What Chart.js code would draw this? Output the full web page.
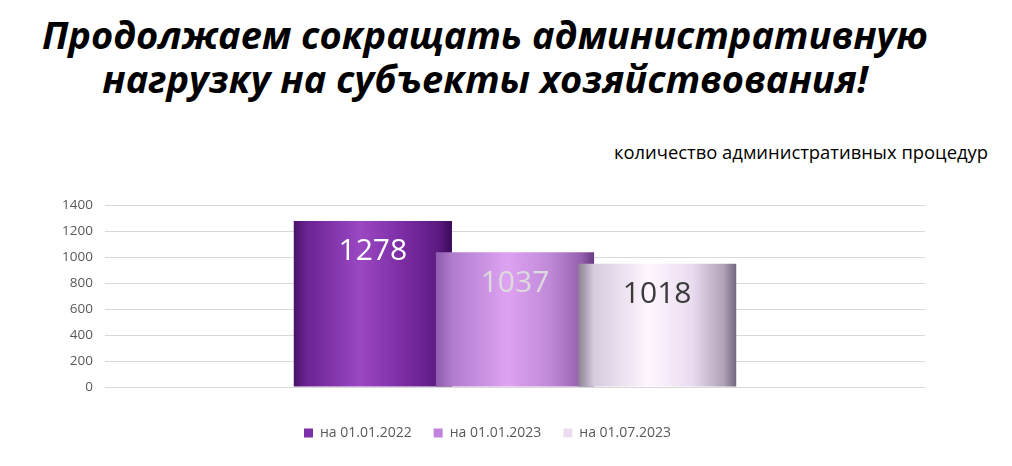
<!DOCTYPE html>
<html>
<head>
<meta charset="utf-8">
<script src="https://cdn.jsdelivr.net/npm/chart.js"></script>
<style>
  html, body { margin: 0; padding: 0; background: #fff; }
  body { width: 1012px; height: 466px; position: relative; overflow: hidden; font-family: "Open Sans", sans-serif; }
  #title { position: absolute; left: 0; top: 12px; width: 970px; text-align: center; font-weight: bold; font-style: italic; font-size: 38px; line-height: 44px; color: #000; }
  #units { position: absolute; right: 24px; top: 139px; font-size: 18.4px; color: #000; }
  #wrap { position: absolute; left: 0; top: 185px; width: 1012px; height: 281px; }
</style>
</head>
<body>
<div id="title">Продолжаем сокращать административную<br>нагрузку на субъекты хозяйствования!</div>
<div id="units">количество административных процедур</div>
<div id="wrap"><canvas id="barChart"></canvas></div>
<script>
// Bar data
var categories = [""];
var seriesLabels = ["на 01.01.2022", "на 01.01.2023", "на 01.07.2023"];
var seriesValues = [1278, 1037, 948];          // bar heights as drawn in the picture
var valueLabels = ["1278", "1037", "1018"];    // numbers printed on the bars
var yMin = 0, yMax = 1400, yStep = 200;

var legendColors = ["#7b2fa8", "#c084de", "#ecdcf2"];
var labelColors = ["#ffffff", "#dcdcdc", "#3a3a3a"];
var barStops = [
    [[0, "#4a1268"], [0.08, "#6a2294"], [0.42, "#9a48c2"], [0.7, "#7a2ba2"], [0.92, "#5a1a80"], [1, "#3c0a58"]],
    [[0, "#8c5aac"], [0.1, "#b07ccc"], [0.45, "#dea2f2"], [0.72, "#c08ad8"], [0.92, "#9660b0"], [1, "#683a80"]],
    [[0, "#8a7e94"], [0.1, "#d6cade"], [0.45, "#fff6ff"], [0.72, "#eadcf0"], [0.92, "#b0a2b8"], [1, "#746880"]]
];

function barFill(i) {
    return function (context) {
        var el = context.element;
        if (!el || !el.width || !isFinite(el.x)) return legendColors[i];
        var g = context.chart.ctx.createLinearGradient(el.x - el.width / 2, 0, el.x + el.width / 2, 0);
        barStops[i].forEach(function (s) { g.addColorStop(s[0], s[1]); });
        return g;
    };
}

// draw datasets left to right so the right bar overlaps the left one
var drawOrder = {
    id: 'drawOrder',
    beforeDatasetsDraw: function (chart) {
        for (var i = 0; i < chart.data.datasets.length; i++) {
            chart.getDatasetMeta(i).controller.draw();
        }
        return false;
    }
};

var barValues = {
    id: 'barValues',
    afterDraw: function (chart) {
        var ctx = chart.ctx;
        ctx.save();
        ctx.font = '30px "Open Sans"';
        ctx.textAlign = 'center';
        ctx.textBaseline = 'middle';
        chart.data.datasets.forEach(function (ds, i) {
            var el = chart.getDatasetMeta(i).data[0];
            ctx.fillStyle = labelColors[i];
            ctx.fillText(valueLabels[i], el.x, el.y + 31);
        });
        ctx.restore();
    }
};

var chart = new Chart("barChart", {
    type: "bar",
    data: {
        labels: categories,
        datasets: seriesLabels.map(function (name, i) {
            return {
                label: name,
                data: [seriesValues[i]],
                backgroundColor: barFill(i),
                borderWidth: 0,
                categoryPercentage: 0.52,
                barPercentage: 1.113
            };
        })
    },
    options: {
        maintainAspectRatio: false,
        animation: false,
        layout: { padding: { left: 50, right: 87, top: 1, bottom: 16 } },
        plugins: {
            title: { display: false },
            tooltip: { enabled: false },
            legend: {
                position: 'bottom',
                labels: {
                    boxWidth: 9,
                    boxHeight: 9,
                    padding: 22,
                    color: '#595959',
                    font: { family: '"Open Sans"', size: 14 },
                    generateLabels: function (chart) {
                        return chart.data.datasets.map(function (ds, i) {
                            return { text: ds.label, fillStyle: legendColors[i], strokeStyle: legendColors[i], lineWidth: 0, hidden: false, datasetIndex: i, fontColor: '#595959' };
                        });
                    }
                }
            }
        },
        scales: {
            x: {
                display: true,
                grid: { display: false },
                border: { display: false },
                ticks: { display: false },
                afterFit: function (scale) { scale.height = 17; }
            },
            y: {
                min: yMin,
                max: yMax,
                ticks: {
                    stepSize: yStep,
                    padding: 12,
                    color: '#595959',
                    font: { family: '"Open Sans"', size: 13.5 },
                    callback: function (v) { return String(v); }
                },
                grid: { color: '#d9d9d9', drawTicks: false },
                border: { display: false },
                afterFit: function (scale) { scale.width = 55; }
            }
        }
    },
    plugins: [drawOrder, barValues]
});
chart.update();
</script>
</body>
</html>
